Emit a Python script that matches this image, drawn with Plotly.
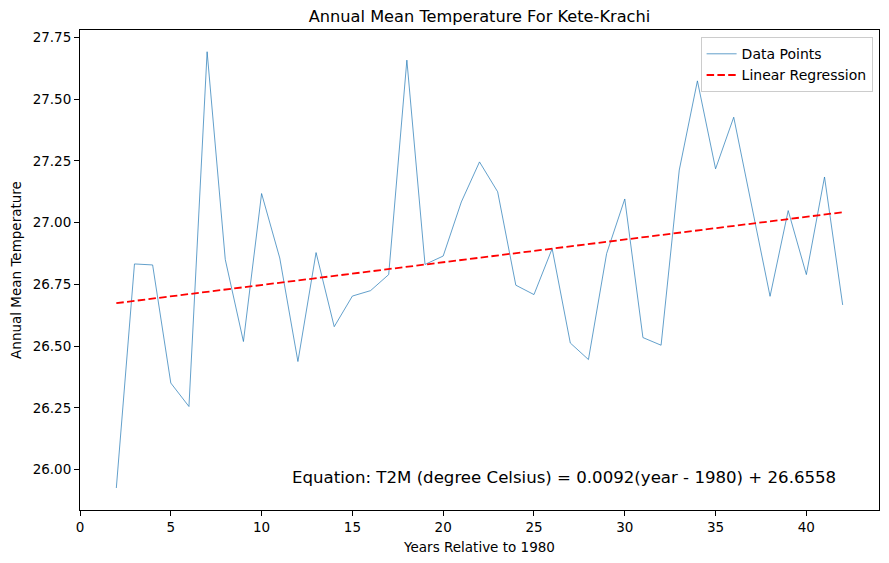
import plotly.graph_objects as go

# Years relative to 1980 and annual mean T2M
years = list(range(2, 43))
temps = [25.926, 26.833, 26.829, 26.351, 26.256, 27.692, 26.851, 26.519, 27.118, 26.857,
         26.438, 26.879, 26.579, 26.703, 26.725, 26.790, 27.658, 26.831, 26.865, 27.084,
         27.246, 27.125, 26.747, 26.709, 26.895, 26.513, 26.446, 26.875, 27.096, 26.535,
         26.504, 27.213, 27.574, 27.218, 27.427, 27.062, 26.702, 27.049, 26.790, 27.185,
         26.667]

# Regression coefficients as printed on the chart
slope = 0.0092
intercept = 26.6558
fit = [slope * x + intercept for x in years]

x_ticks = [0, 5, 10, 15, 20, 25, 30, 35, 40]
y_ticks = [26.00, 26.25, 26.50, 26.75, 27.00, 27.25, 27.50, 27.75]

font_family = "DejaVu Sans"

# the page body has an 8px margin, so the figure is 8px smaller than the window
W, H = 881, 555

fig = go.Figure()
fig.add_trace(go.Scatter(
    x=years, y=temps, mode="lines", name="Data Points",
    line=dict(color="#1f77b4", width=0.7)
))
fig.add_trace(go.Scatter(
    x=years, y=fit, mode="lines", name="Linear Regression",
    line=dict(color="red", width=1.8, dash="7.5px,3.3px")
))

axis_style = dict(
    showgrid=False, zeroline=False, showline=True, linecolor="black", linewidth=1,
    mirror=True, ticks="outside", ticklen=5, tickcolor="black", tickwidth=1,
    tickfont=dict(size=13.5, color="black", family=font_family),
    automargin=False,
)

fig.update_layout(
    width=W, height=H,
    margin=dict(l=72, r=10, t=22, b=53),
    paper_bgcolor="white", plot_bgcolor="white",
    font=dict(family=font_family, color="black", size=13.5),
    title=dict(text="Annual Mean Temperature For Kete-Krachi", x=0.5, xanchor="center",
               xref="paper", y=1 - 8 / H, yanchor="middle",
               font=dict(size=16.2, family=font_family, color="black")),
    xaxis=dict(range=[0, 44], tickvals=x_ticks, title=dict(text="Years Relative to 1980",
               font=dict(size=13.5), standoff=8), **axis_style),
    yaxis=dict(range=[25.837, 27.780], tickvals=y_ticks, tickformat=".2f",
               title=dict(text="Annual Mean Temperature", font=dict(size=13.5), standoff=8),
               **axis_style),
    legend=dict(x=0.992, y=0.985, xanchor="right", yanchor="top",
                bgcolor="rgba(255,255,255,0.8)", bordercolor="#cccccc", borderwidth=1,
                font=dict(size=14, family=font_family), itemwidth=30,
                tracegroupgap=0),
    showlegend=True,
)

fig.add_annotation(
    text="Equation: T2M (degree Celsius) = 0.0092(year - 1980) + 26.6558",
    xref="paper", yref="paper", x=(838 - 80) / 799, y=(510 - 477) / 480,
    xanchor="right", yanchor="middle", showarrow=False,
    font=dict(size=16.6, family=font_family, color="black"),
)

fig.write_html("out.html")
